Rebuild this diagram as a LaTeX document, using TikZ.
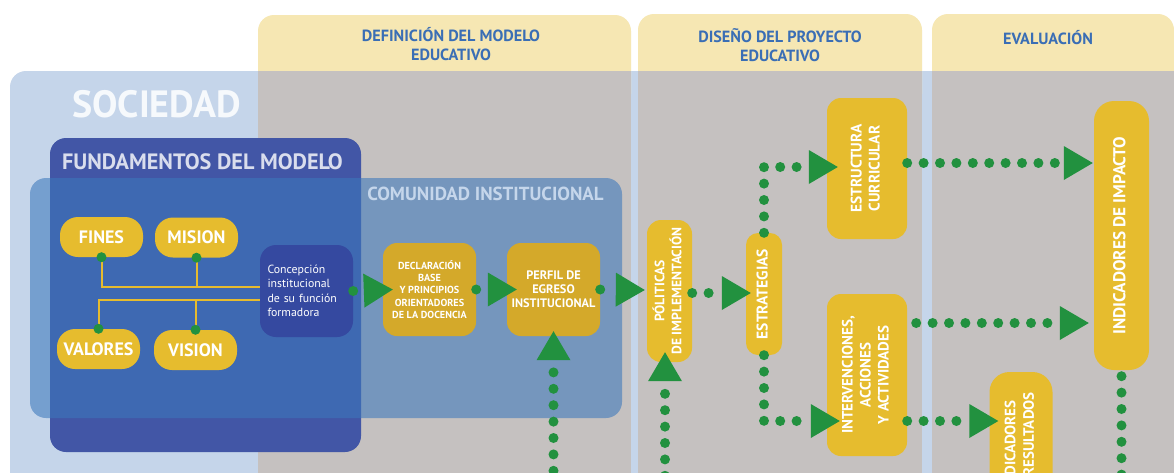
\documentclass[tikz,border=0pt]{standalone}
\usepackage{fontspec}
\setmainfont{PT Sans}
\usepackage{graphicx}
\usetikzlibrary{arrows.meta}
\usetikzlibrary{calc}

\definecolor{capsula}{HTML}{E6BC2E}
\definecolor{capsulaosc}{HTML}{D4A92A}
\definecolor{verde}{HTML}{22913F}
\definecolor{azulclaro}{HTML}{C5D5EA}
\definecolor{azulfondo}{HTML}{4256A6}
\definecolor{azulcom}{RGB}{60,120,188}
\definecolor{azulconc}{HTML}{3549A0}
\definecolor{gris}{HTML}{C5C1C0}
\definecolor{amarillo}{HTML}{F6E7B3}
\definecolor{azultit}{HTML}{3A6EB5}

\newcommand{\girado}[1]{\rotatebox{90}{\begin{tabular}{@{}c@{}}#1\end{tabular}}}

\begin{document}
\begin{tikzpicture}[x=1pt, y=-1pt,
        caja/.style={fill=capsula, rounded corners=14pt, inner sep=0pt, text=white, align=center},
        pildora/.style={caja, rounded corners=18pt, minimum width=83pt, minimum height=40pt, font=\bfseries\fontsize{18}{20}\selectfont},
        titcol/.style={text=azultit, align=center, font=\bfseries\fontsize{16.2}{18.5}\selectfont},
        puntos/.style={draw=verde, line width=10pt, line cap=round, dash pattern=on 0pt off 16.4pt},
        flujo/.style={puntos, -{Triangle[length=29pt, width=34pt, line width=0pt]}},
        enlace/.style={draw=capsula, line width=2pt}]

        \clip (0,0) rectangle (1174,472);
        \fill [white] (0,0) rectangle (1174,472);

        \fill [azulclaro, rounded corners=16pt] (10,71) rectangle (1220,540);
        \fill [amarillo, rounded corners=16pt] (258,15) rectangle (631,110);
        \fill [amarillo, rounded corners=16pt] (638,14) rectangle (922,110);
        \fill [amarillo, rounded corners=16pt] (932,14) rectangle (1174,110);
        \fill [gris] (258,71) rectangle (631,540);
        \fill [gris] (638,71) rectangle (922,540);
        \fill [gris] (932,71) rectangle (1174,540);

        \node [titcol] (tdef) at (451,44) {DEFINICIÓN DEL MODELO\\EDUCATIVO};
        \node [titcol] (tdis) at (780,45) {DISEÑO DEL PROYECTO\\EDUCATIVO};
        \node [titcol] (teva) at (1048,38) {EVALUACIÓN};

        \node [text=white!85!azulclaro, font=\bfseries\fontsize{38}{42}\selectfont] (tsoc) at (156.5,104) {SOCIEDAD};

        \fill [azulfondo, rounded corners=16pt] (50,138) rectangle (361,452);
        \node [text=white!80!azulfondo, font=\bfseries\fontsize{22.2}{25}\selectfont] (tfun) at (202.5,162) {FUNDAMENTOS DEL MODELO};

        \fill [azulcom, opacity=0.58, rounded corners=16pt] (30,178) rectangle (622,418);
        \node [text=white!70!azulcom, font=\bfseries\fontsize{18.9}{21}\selectfont] (tcom) at (485.5,194) {COMUNIDAD INSTITUCIONAL};

        \node [pildora] (fines) at (101.5,237) {FINES};
        \node [pildora] (mision) at (196.5,237.5) {MISION};
        \node [pildora] (valores) at (98.5,349) {VALORES};
        \node [pildora] (vision) at (195.5,350) {VISION};
        \node [fill=azulconc, rounded corners=16pt, minimum width=93pt, minimum height=92pt, inner sep=0pt,
            text=white, text width=78pt, align=left, font=\fontsize{11.8}{14.5}\selectfont]
            (concepcion) at (306.5,291) {Concepción\\institucional\\de su función\\formadora};

        \node [caja, fill=capsulaosc, minimum width=93pt, minimum height=93pt, font=\bfseries\fontsize{10.2}{12.4}\selectfont]
            (declaracion) at (429.5,289.5) {DECLARACIÓN\\BASE\\Y PRINCIPIOS\\ORIENTADORES\\DE LA DOCENCIA};
        \node [caja, fill=capsulaosc, minimum width=93pt, minimum height=93pt, font=\bfseries\fontsize{12.3}{14}\selectfont]
            (perfil) at (553.5,289.5) {PERFIL DE\\EGRESO\\INSTITUCIONAL};

        \node [caja, minimum width=45pt, minimum height=142pt, font=\bfseries\fontsize{13.6}{17}\selectfont]
            (politicas) at (669.5,291) {\girado{PÓLITICAS\\DE IMPLEMENTACIÓN}};
        \node [caja, rounded corners=12pt, minimum width=36pt, minimum height=122pt, font=\bfseries\fontsize{15.5}{18}\selectfont]
            (estrategias) at (764,294) {\girado{ESTRATEGIAS}};
        \node [caja, minimum width=80pt, minimum height=141pt, font=\bfseries\fontsize{15.3}{18}\selectfont]
            (estructura) at (867,168.5) {\girado{ESTRUCTURA\\CURRICULAR}};
        \node [caja, minimum width=80pt, minimum height=162pt, font=\bfseries\fontsize{15}{18}\selectfont]
            (intervenciones) at (867,375) {\girado{INTERVENCIONES,\\ACCIONES\\Y ACTIVIDADES}};
        \node [caja, rounded corners=20pt, minimum width=55pt, minimum height=269pt, font=\bfseries\fontsize{17.2}{19}\selectfont]
            (impacto) at (1121.5,235.5) {\girado{INDICADORES DE IMPACTO}};
        \node [caja, rounded corners=20pt, minimum width=63pt, minimum height=146pt, font=\bfseries\fontsize{15}{18.5}\selectfont]
            (resultados) at (1021,445) {\girado{INDICADORES\\DE RESULTADOS}};

        \coordinate (barraarr) at ($(concepcion.west)+(0,-4)$);
        \coordinate (barraab) at ($(concepcion.west)+(0,9)$);
        \draw [enlace] (fines.south) |- (barraarr);
        \draw [enlace] (mision.south) -- (mision.south |- barraarr);
        \draw [enlace] (valores.north) |- (barraab);
        \draw [enlace] (vision.north) -- (vision.north |- barraab);
        \foreach \n in {fines,mision}
            \fill [verde] (\n.south) circle (5);
        \foreach \n in {valores,vision}
            \fill [verde] (\n.north) circle (5);

        \draw [flujo] (concepcion.east) -- ($(declaracion.west)+(10,0)$);
        \draw [flujo] (declaracion.east) -- ($(perfil.west)+(10,0)$);
        \draw [flujo] (perfil.east) -- ($(politicas.west)+(-2,-1)$);
        \draw [flujo] ($(politicas.east)+(0,2)$) -- ($(politicas.east -| estrategias.west)+(5,2)$);
        \draw [flujo] (estrategias.north) |- ($(estructura.west)+(11,-1.5)$);
        \draw [flujo] (estrategias.south) |- ($(intervenciones.west)+(13,46)$);
        \draw [flujo] ($(estructura.east)+(0,-5.5)$) -- ($(estructura.east -| impacto.west)+(-1,-5.5)$);
        \draw [flujo] ($(intervenciones.east)+(9,-52)$) -- ($(intervenciones.east -| impacto.west)+(-5,-52)$);
        \draw [flujo] ($(intervenciones.east)+(0,46)$) -- ($(intervenciones.east -| resultados.west)+(9,46)$);

        \coordinate (bajoperfil) at (553.5,520);
        \coordinate (bajopoliticas) at (665,525);
        \coordinate (bajoimpacto) at (1121.5,540);
        \draw [flujo] (bajoperfil) -- ($(perfil.south)+(0,-5)$);
        \draw [flujo] (bajopoliticas) -- ($(politicas.south)+(-4.5,-10)$);
        \draw [puntos] ($(impacto.south)+(0,6)$) -- (bajoimpacto);

\end{tikzpicture}
\end{document}
